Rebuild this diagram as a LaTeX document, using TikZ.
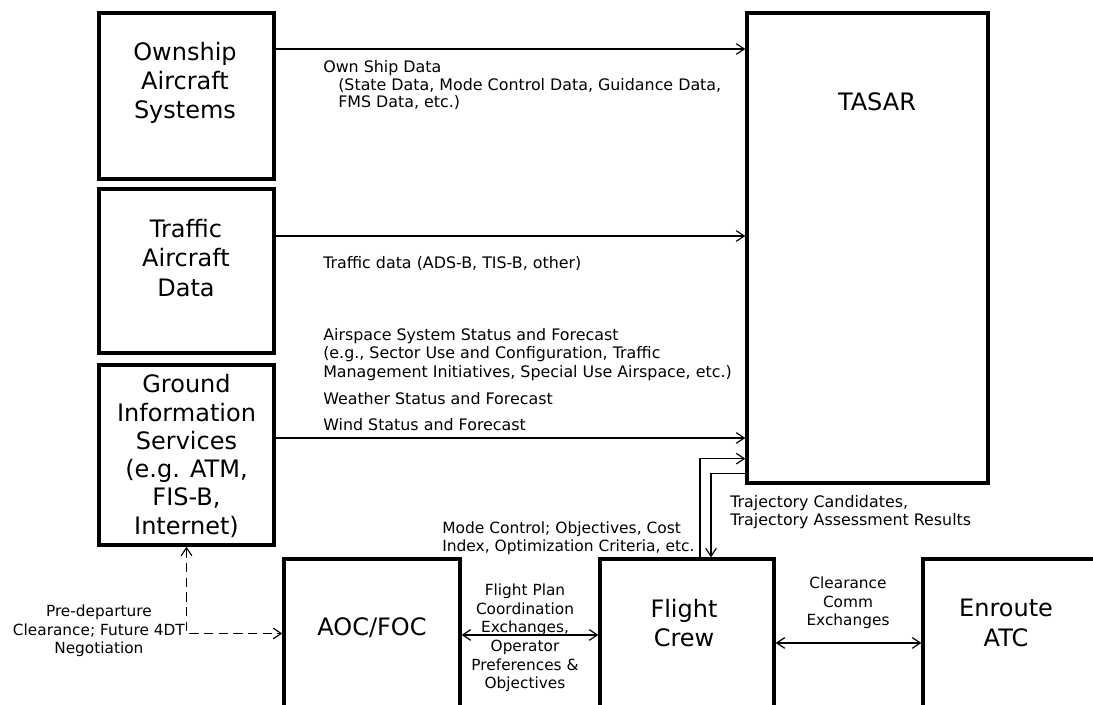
\documentclass[tikz,border=0pt]{standalone}
\usepackage{fontspec}
\setmainfont{DejaVu Sans}
\usetikzlibrary{arrows.meta,positioning}
\tikzset{
  blk/.style={
    rectangle, draw=black, line width=2.5pt, fill=none, inner sep=0pt
  },
  bigtxt/.style={
    font=\fontsize{18}{22}\selectfont, align=center, inner sep=0pt
  },
  lbl/.style={
    font=\fontsize{11.9}{13.9}\selectfont, align=left, inner sep=0pt,
    anchor=north west
  },
  clbl/.style={lbl, font=\fontsize{11.5}{13.9}\selectfont, align=center, anchor=north},
  arr/.style={-{Straight Barb[length=6pt,width=8pt]}, line width=0.9pt, black},
  darr/.style={{Straight Barb[length=6pt,width=8pt]}-{Straight Barb[length=6pt,width=8pt]},
    line width=0.9pt, black},
  dline/.style={darr, dash pattern=on 7pt off 4pt}
}

\begin{document}
\begin{tikzpicture}[x=0.75pt, y=-0.75pt]

\useasboundingbox (0,0) rectangle (1093,705);
\clip (0,0) rectangle (1093,705);

% ── Left column: sources ──────────────────────────────────────────
\node[blk, minimum width=131.25pt, minimum height=124.5pt] (own)  at (186.5, 96)  {};
\node[blk, minimum width=131.25pt, minimum height=123pt]   (traf) at (186.5, 271) {};
\node[blk, minimum width=131.25pt, minimum height=135pt]   (gnd)  at (186.5, 455) {};

\node[bigtxt] (ownname)  at (185, 83)  {Ownship\\Aircraft\\Systems};
\node[bigtxt] (trafname) at (186, 258) {Traffic\\Aircraft\\Data};
\node[bigtxt, font=\fontsize{18}{21.2}\selectfont] (gndname) at (186.5, 456)
  {Ground\\Information\\Services\\(e.g. ATM,\\FIS-B,\\Internet)};

% ── TASAR ─────────────────────────────────────────────────────────
\node[blk, minimum width=180.75pt, minimum height=352.5pt] (tasar) at (867.5, 248) {};
\node[bigtxt] (tasarname) at (877, 102) {TASAR};

% ── Bottom row (cut off by the frame) ─────────────────────────────
\node[blk, minimum width=132pt,    minimum height=150.75pt] (aoc)  at (372, 659.5)  {};
\node[blk, minimum width=130.5pt,  minimum height=150.75pt] (crew) at (687, 659.5)  {};
\node[blk, minimum width=140.25pt, minimum height=150.75pt] (atc)  at (1016.5, 659.5) {};

\node[bigtxt] (aocname)  at (372, 628)  {AOC/FOC};
\node[bigtxt] (crewname) at (684, 623)  {Flight\\Crew};
\node[bigtxt] (atcname)  at (1006, 623) {Enroute\\ATC};

% ── Data feeds into TASAR ─────────────────────────────────────────
\coordinate (ownout)  at (274, 49);
\coordinate (trafout) at (274, 236);
\coordinate (gndout)  at (274, 438);
\draw[arr] (ownout)  -- (ownout -| tasar.west);
\draw[arr] (trafout) -- (trafout -| tasar.west);
\draw[arr] (gndout)  -- (gndout -| tasar.west);

\node[lbl] (ownlbl)  at (323, 60)  {Own Ship Data};
\node[lbl, font=\fontsize{11.9}{12.9}\selectfont] (ownsub)  at (338, 78)
  {(State Data, Mode Control Data, Guidance Data,\\FMS Data, etc.)};
\node[lbl] (traflbl) at (323, 256) {Traffic data (ADS-B, TIS-B, other)};
\node[lbl] (airlbl)  at (323, 328)
  {Airspace System Status and Forecast\\(e.g., Sector Use and Configuration, Traffic\\Management Initiatives, Special Use Airspace, etc.)};
\node[lbl] (wxlbl)   at (323, 392) {Weather Status and Forecast};
\node[lbl] (windlbl) at (323, 418) {Wind Status and Forecast};

% ── Flight crew <-> TASAR ─────────────────────────────────────────
\coordinate (upx) at (700, 0);
\coordinate (dnx) at (711, 0);
\draw[arr] (crew.north -| upx) |- ([yshift=19.5pt]tasar.south west);
\draw[arr] ([yshift=8.25pt]tasar.south west) -| (crew.north -| dnx);

\node[lbl, font=\fontsize{11.6}{13.9}\selectfont] (modelbl) at (442, 521)
  {Mode Control; Objectives, Cost\\Index, Optimization Criteria, etc.};
\node[lbl] (trajlbl) at (730, 495)
  {Trajectory Candidates,\\Trajectory Assessment Results};

% ── Bottom exchanges ──────────────────────────────────────────────
\draw[darr] ([yshift=18.4pt]aoc.east) -- ([yshift=18.4pt]crew.west);
\draw[darr] ([yshift=12.4pt]crew.east) -- ([yshift=12.4pt]atc.west);
\draw[dline] (gnd.south) |- ([yshift=19.5pt]aoc.west);

\node[clbl] (fplbl)  at (525, 584)
  {Flight Plan\\Coordination\\Exchanges,\\Operator\\Preferences \&\\Objectives};
\node[clbl] (clrlbl) at (848, 577) {Clearance\\Comm\\Exchanges};
\node[clbl, anchor=north east] (predep) at (185, 605)
  {Pre-departure\\Clearance; Future 4DT\\Negotiation};

\end{tikzpicture}
\end{document}
